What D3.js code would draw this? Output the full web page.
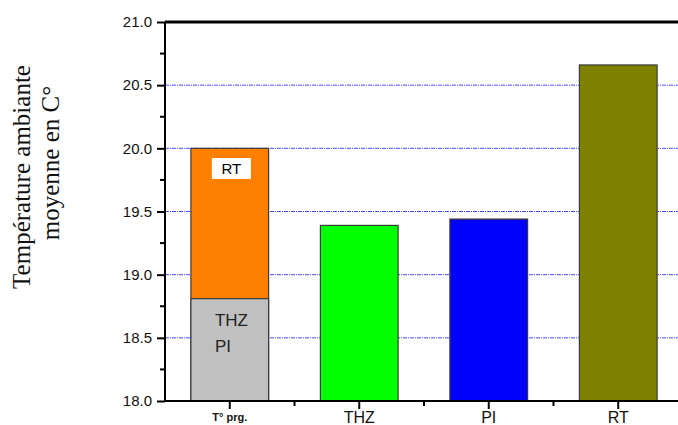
<!DOCTYPE html>
<html><head><meta charset="utf-8">
<script src="https://cdn.jsdelivr.net/npm/d3@7"></script>
<style>body{margin:0;background:#fff}svg{display:block}</style>
</head><body>
<svg id="c" width="678" height="425"></svg>
<script>
const categories = ["T° prg.", "THZ", "PI", "RT"];
const values = [20.0, 19.39, 19.44, 20.66];
const barColors = ["#ff8000", "#00ff00", "#0000ff", "#808000"];
const stackBase = 18.81;               // top of the grey (THZ + PI) part of the first bar
const stackBaseColor = "#c0c0c0";
const yMajorTicks = [18.0, 18.5, 19.0, 19.5, 20.0, 20.5, 21.0];
const yMinorTicks = [18.25, 18.75, 19.25, 19.75, 20.25, 20.75];
const gridTicks = [18.5, 19.0, 19.5, 20.0, 20.5];
const yTitle = ["Température ambiante", "moyenne en C°"];

const svg = d3.select("#c");
const L = 165, R = 683, T = 22, B = 401;
const x = d3.scaleBand().domain(categories).range([L, R]).paddingInner(0.4).paddingOuter(0.2);
const y = d3.scaleLinear().domain([18, 21]).range([B, T]);

// grid
svg.append("g").selectAll("line").data(gridTicks).join("line")
  .attr("x1", L).attr("x2", 678).attr("y1", d => y(d)).attr("y2", d => y(d))
  .attr("stroke", "#4a4aff").attr("stroke-width", 1).attr("stroke-dasharray", "4,1,1,1");

// bars
const bars = svg.append("g");
bars.selectAll("rect.main").data(categories).join("rect")
  .attr("x", d => x(d)).attr("width", x.bandwidth())
  .attr("y", (d, i) => y(values[i])).attr("height", (d, i) => y(18) - y(values[i]))
  .attr("fill", (d, i) => barColors[i]).attr("stroke", "#3a3a3a").attr("stroke-width", 1.2);
bars.append("rect")
  .attr("x", x(categories[0])).attr("width", x.bandwidth())
  .attr("y", y(stackBase)).attr("height", y(18) - y(stackBase))
  .attr("fill", stackBaseColor).attr("stroke", "#3a3a3a").attr("stroke-width", 1.2);

// labels inside first bar
const x0 = x(categories[0]);
svg.append("rect").attr("x", x0 + 21).attr("y", 158).attr("width", 39).attr("height", 21).attr("fill", "#fff");
svg.append("text").attr("x", x0 + 40.5).attr("y", 174).attr("text-anchor", "middle")
  .attr("font-family", "Liberation Sans, Arial, sans-serif").attr("font-size", 15).text("RT");
svg.append("text").attr("x", x0 + 24).attr("y", 326)
  .attr("font-family", "Liberation Sans, Arial, sans-serif").attr("font-size", 17).attr("fill", "#222").text("THZ");
svg.append("text").attr("x", x0 + 24).attr("y", 352)
  .attr("font-family", "Liberation Sans, Arial, sans-serif").attr("font-size", 17).attr("fill", "#222").text("PI");

// y axis
const yAxis = svg.append("g").attr("transform", `translate(${L},0)`)
  .call(d3.axisLeft(y).tickValues(yMajorTicks).tickFormat(d3.format(".1f")).tickSize(8).tickPadding(5));
yAxis.select(".domain").remove();
yAxis.selectAll(".tick line").attr("stroke-width", 2);
yAxis.selectAll(".tick text").attr("font-family", "Liberation Sans, Arial, sans-serif").attr("font-size", 15).attr("fill", "#111");
svg.append("g").selectAll("line").data(yMinorTicks).join("line")
  .attr("x1", L - 5).attr("x2", L).attr("y1", d => y(d)).attr("y2", d => y(d))
  .attr("stroke", "#000").attr("stroke-width", 2);

// x axis
const xAxis = svg.append("g").attr("transform", `translate(0,${B})`)
  .call(d3.axisBottom(x).tickSize(8).tickPadding(4));
xAxis.select(".domain").remove();
xAxis.selectAll(".tick line").attr("stroke-width", 2);
xAxis.selectAll(".tick text").attr("font-family", "Liberation Sans, Arial, sans-serif")
  .attr("font-size", d => d === categories[0] ? 11 : 16)
  .attr("font-weight", d => d === categories[0] ? "bold" : "normal")
  .attr("fill", "#111")
  .attr("dy", null)
  .attr("y", d => d === categories[0] ? 20 : 22);
svg.append("g").selectAll("line").data(categories.slice(0, -1)).join("line")
  .attr("x1", d => x(d) + x.bandwidth() / 2 + x.step() / 2).attr("x2", d => x(d) + x.bandwidth() / 2 + x.step() / 2)
  .attr("y1", B).attr("y2", B + 5).attr("stroke", "#000").attr("stroke-width", 2);

// frame lines
svg.append("line").attr("x1", L).attr("x2", 678).attr("y1", B).attr("y2", B).attr("stroke", "#000").attr("stroke-width", 2);
svg.append("line").attr("x1", L).attr("x2", 678).attr("y1", T).attr("y2", T).attr("stroke", "#000").attr("stroke-width", 3);
svg.append("line").attr("x1", L).attr("x2", L).attr("y1", T).attr("y2", B + 1).attr("stroke", "#000").attr("stroke-width", 2);

// y title
svg.append("text").attr("transform", "translate(30,177) rotate(-90)")
  .attr("font-family", "Liberation Serif, Times New Roman, serif").attr("font-size", 25).attr("fill", "#111")
  .attr("text-anchor", "middle").text(yTitle[0]);
svg.append("text").attr("transform", "translate(59,163) rotate(-90)")
  .attr("font-family", "Liberation Serif, Times New Roman, serif").attr("font-size", 25).attr("fill", "#111")
  .attr("text-anchor", "middle").text(yTitle[1]);
</script>
</body></html>
